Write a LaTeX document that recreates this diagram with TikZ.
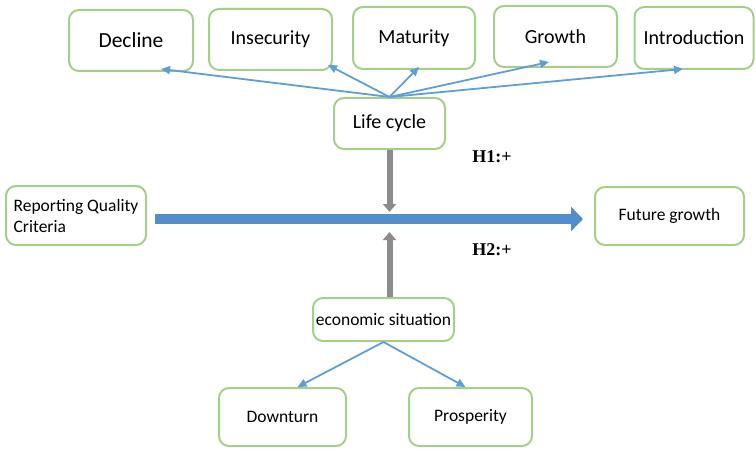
\documentclass[tikz,border=0pt]{standalone}
\usepackage{fontspec}
\setmainfont{Carlito}
\newfontfamily\hypfont{Liberation Serif}
\usetikzlibrary{arrows.meta,calc}
\definecolor{boxgreen}{RGB}{166,206,137}
\definecolor{linkblue}{RGB}{98,158,214}
\definecolor{flowblue}{RGB}{84,141,205}
\definecolor{pushgray}{RGB}{140,140,140}

\begin{document}
\begin{tikzpicture}[x=1pt, y=1pt,
  font=\fontsize{20}{24}\selectfont,
  stage/.style={draw=boxgreen, line width=2pt, rounded corners=10pt, align=center, inner sep=2pt, fill=white},
  small/.style={stage, font=\fontsize{17.5}{21}\selectfont},
  link/.style={-{Triangle[length=9pt,width=8pt]}, line width=1.8pt, draw=linkblue},
  flow/.style={-{Triangle[length=12pt,width=24pt]}, line width=10pt, draw=flowblue},
  push/.style={-{Triangle[length=8pt,width=13pt]}, line width=6pt, draw=pushgray},
  hyp/.style={font=\hypfont\bfseries\fontsize{18}{21}\selectfont}]
\useasboundingbox (0,0) rectangle (756,-452);
% life cycle stages
\node[stage, minimum width=124pt, minimum height=61pt, font=\fontsize{21.5}{26}\selectfont] (dec) at (131,-40.5) {Decline};
\node[stage, minimum width=123pt, minimum height=61pt] (ins) at (270.5,-39.5) {Insecurity};
\node[stage, minimum width=122pt, minimum height=62pt] (mat) at (414,-38) {Maturity};
\node[stage, minimum width=123pt, minimum height=61pt] (gro) at (555.5,-36.5) {Growth};
\node[stage, minimum width=119pt, minimum height=62pt] (int) at (694,-38) {Introduction};
\node[stage, minimum width=111pt, minimum height=51pt] (lc) at (389.5,-123.5) {Life cycle};
% main relation
\node[small, minimum width=140pt, minimum height=59pt, align=left] (rqc) at (76,-215.5) {Reporting Quality\\ Criteria};
\node[small, minimum width=149pt, minimum height=58pt] (fg) at (669.5,-216) {Future growth};
% economic situation
\node[small, minimum width=141pt, minimum height=43pt] (eco) at (383.5,-319.5) {economic situation};
\node[small, minimum width=127pt, minimum height=58pt] (dow) at (282.5,-417) {Downturn};
\node[small, minimum width=123pt, minimum height=58pt] (pro) at (470.5,-417) {Prosperity};
\node[hyp] (h1) at (492,-157) {H1:+};
\node[hyp] (h2) at (492,-250) {H2:+};
\coordinate (cross) at (lc.south |- 0,-219);
\draw[link] (lc.north) -- ($(dec.south)+(30,3)$);
\draw[link] (lc.north) -- ($(ins.south)+(57.5,6)$);
\draw[link] (lc.north) -- ($(mat.south)+(5,3)$);
\draw[link] (lc.north) -- ($(gro.south)+(-6.5,6)$);
\draw[link] (lc.north) -- ($(int.south)+(-11,1)$);
\draw[flow, shorten <=8pt, shorten >=11pt] ([yshift=-3.5pt]rqc.east) -- ([yshift=-3pt]fg.west);
\draw[push] (lc.south) -- ([yshift=7pt]cross);
\draw[push] (eco.north -| cross) -- ([yshift=-13pt]cross);
\draw[link] (eco.south) -- ($(dow.north)+(15,0)$);
\draw[link] (eco.south) -- ($(pro.north)+(-5,0)$);
\end{tikzpicture}
\end{document}
